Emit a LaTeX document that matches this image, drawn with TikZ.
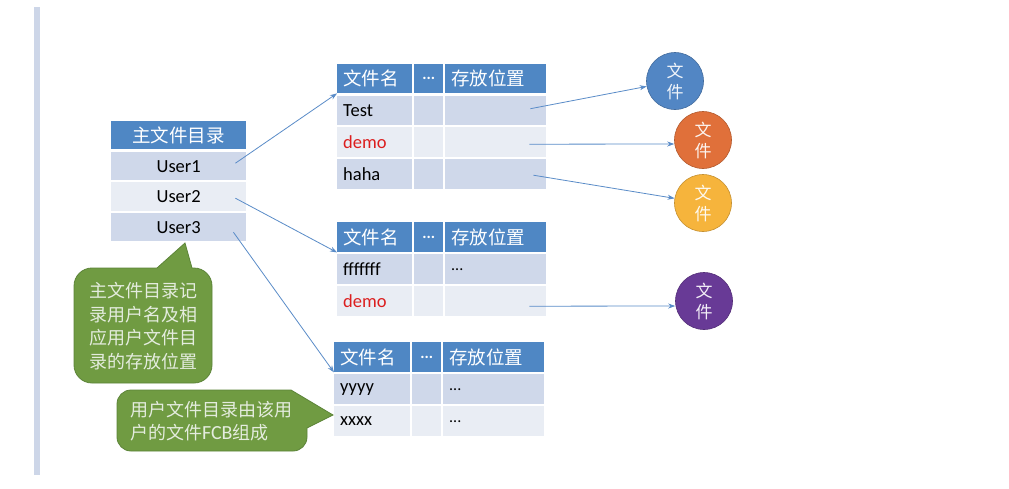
\documentclass[tikz,border=0pt]{standalone}
\usepackage{fontspec}
\setmainfont{Carlito}
\newfontfamily\cjk{Noto Sans CJK SC}
\usetikzlibrary{arrows.meta}
\definecolor{hdr}{RGB}{79,135,196}
\definecolor{rowd}{RGB}{207,216,234}
\definecolor{rowl}{RGB}{233,237,244}
\definecolor{demo}{RGB}{220,30,30}
\definecolor{callg}{RGB}{112,155,66}
\definecolor{callb}{RGB}{92,132,56}
\definecolor{calltxt}{RGB}{228,236,222}
\definecolor{arr}{RGB}{90,140,200}
\definecolor{barc}{RGB}{205,214,232}
\definecolor{cblue}{RGB}{82,134,196}
\definecolor{corange}{RGB}{224,112,58}
\definecolor{cyellow}{RGB}{246,180,60}
\definecolor{cpurple}{RGB}{104,58,150}
\newcommand\cellnode[7]{%
  \pgfmathsetmacro\cw{#4-(#2)}\pgfmathsetmacro\ch{#5-(#3)}\pgfmathsetmacro\tw{#4-(#2)-12}%
  \node[#6, anchor=north west, minimum width=\cw pt, minimum height=\ch pt, text width=\tw pt] (#1) at (#2,#3) {#7};}
\tikzset{
  basecell/.style={inner xsep=6pt, inner ysep=0pt, rectangle},
  hcell/.style={basecell, fill=hdr, text=white, font=\cjk\fontsize{18.5}{22}\selectfont, align=left},
  hdots/.style={basecell, fill=hdr, text=white, font=\fontsize{16}{18}\selectfont\bfseries, align=center},
  dcell/.style={basecell, fill=rowd, font=\fontsize{18.5}{21}\selectfont, align=left},
  lcell/.style={basecell, fill=rowl, font=\fontsize{18.5}{21}\selectfont, align=left},
  mhdr/.style={basecell, fill=hdr, text=white, font=\cjk\fontsize{18.5}{22}\selectfont, align=center},
  mdcell/.style={dcell, align=center},
  mlcell/.style={lcell, align=center},
  circ/.style={circle, inner sep=0pt, minimum size=57pt, draw=#1!80!black, line width=0.6pt, fill=#1, text=white!92!#1, font=\cjk\fontsize{17}{21}\selectfont, align=center},
  arrow/.style={draw=arr, line width=0.8pt, -{Stealth[length=7pt,width=5pt]}},
  callshape/.style={fill=callg, draw=callb, line width=0.8pt},
  calltext/.style={text=calltxt, font=\cjk\fontsize{18}{23.5}\selectfont, align=left, inner sep=0pt}
}
\newcommand\sdots{{\fontsize{16}{18}\selectfont ...}}
\begin{document}
\begin{tikzpicture}[x=1pt,y=-1pt]
\useasboundingbox (0,0) rectangle (1009,488);
\fill[white] (0,0) rectangle (1009,488);
\fill[barc] (34,7) rectangle (40,475);

% main directory
\cellnode{mh}{111}{121}{246}{149}{mhdr}{主文件目录}
\cellnode{u1}{111}{152}{246}{180}{mdcell}{User1}
\cellnode{u2}{111}{182}{246}{211}{mlcell}{User2}
\cellnode{u3}{111}{213}{246}{241}{mdcell}{User3}

% table 1
\cellnode{t1h1}{337}{64}{412}{93}{hcell}{文件名}
\cellnode{t1h2}{414}{64}{443}{93}{hdots}{...}
\cellnode{t1h3}{445}{64}{546}{93}{hcell}{存放位置}
\cellnode{t1r1c1}{337}{96}{412}{125}{dcell}{Test}
\cellnode{t1r1c2}{414}{96}{443}{125}{dcell}{}
\cellnode{t1r1c3}{445}{96}{546}{125}{dcell}{}
\cellnode{t1r2c1}{337}{127}{412}{157}{lcell}{\textcolor{demo}{demo}}
\cellnode{t1r2c2}{414}{127}{443}{157}{lcell}{}
\cellnode{t1r2c3}{445}{127}{546}{157}{lcell}{}
\cellnode{t1r3c1}{337}{159}{412}{189}{dcell}{haha}
\cellnode{t1r3c2}{414}{159}{443}{189}{dcell}{}
\cellnode{t1r3c3}{445}{159}{546}{189}{dcell}{}

% table 2
\cellnode{t2h1}{337}{222}{412}{252}{hcell}{文件名}
\cellnode{t2h2}{414}{222}{443}{252}{hdots}{...}
\cellnode{t2h3}{445}{222}{546}{252}{hcell}{存放位置}
\cellnode{t2r1c1}{337}{254}{412}{284}{dcell}{fffffff}
\cellnode{t2r1c2}{414}{254}{443}{284}{dcell}{}
\cellnode{t2r1c3}{445}{254}{546}{284}{dcell}{\sdots}
\cellnode{t2r2c1}{337}{286}{412}{316}{lcell}{\textcolor{demo}{demo}}
\cellnode{t2r2c2}{414}{286}{443}{316}{lcell}{}
\cellnode{t2r2c3}{445}{286}{546}{316}{lcell}{}

% table 3
\cellnode{t3h1}{334}{342}{410}{372}{hcell}{文件名}
\cellnode{t3h2}{412}{342}{441}{372}{hdots}{...}
\cellnode{t3h3}{443}{342}{544}{372}{hcell}{存放位置}
\cellnode{t3r1c1}{334}{374}{410}{404}{dcell}{yyyy}
\cellnode{t3r1c2}{412}{374}{441}{404}{dcell}{}
\cellnode{t3r1c3}{443}{374}{544}{404}{dcell}{\sdots}
\cellnode{t3r2c1}{334}{406}{410}{436}{lcell}{xxxx}
\cellnode{t3r2c2}{412}{406}{441}{436}{lcell}{}
\cellnode{t3r2c3}{443}{406}{544}{436}{lcell}{\sdots}

% file circles
\node[circ=cblue] (f1) at (675,81) {文\\件};
\node[circ=corange] (f2) at (703,140) {文\\件};
\node[circ=cyellow] (f3) at (703,203) {文\\件};
\node[circ=cpurple] (f4) at (704,301) {文\\件};

% arrows
\draw[arrow] ([xshift=-11pt,yshift=3pt]u1.east) -- (t1h1.south west);
\draw[arrow] ([xshift=-11pt,yshift=-1.5pt]u2.east) -- (t2h1.south west);
\draw[arrow] ([xshift=-13pt,yshift=-5pt]u3.east) -- (t3h1.south west);
\draw[arrow] ([xshift=-16pt,yshift=2pt]t1r1c3.east) -- (f1);
\draw[arrow] ([xshift=-17pt,yshift=-2pt]t1r2c3.east) -- ([yshift=-4pt]f2.west);
\draw[arrow] ([xshift=-13pt,yshift=-1pt]t1r3c3.east) -- (f3);
\draw[arrow] ([xshift=-17pt,yshift=-5pt]t2r2c3.east) -- ([yshift=-5pt]f4.west);

% callout 1
\path[callshape] (90,268) -- (157,268) -- (185,243) -- (192,268) -- (194,268)
  arc[start angle=90,end angle=0,radius=18pt] -- (212,365)
  arc[start angle=0,end angle=-90,radius=18pt] -- (92,383)
  arc[start angle=-90,end angle=-180,radius=18pt] -- (74,286)
  arc[start angle=180,end angle=90,radius=18pt] -- cycle;
\node[calltext] (n1) at (143,326) {主文件目录记\\录用户名及相\\应用户文件目\\录的存放位置};

% callout 2
\path[callshape] (131,390) -- (291,390) -- (333,415) -- (307,428) -- (307,437)
  arc[start angle=0,end angle=-90,radius=14pt] -- (131,451)
  arc[start angle=-90,end angle=-180,radius=14pt] -- (117,404)
  arc[start angle=180,end angle=90,radius=14pt] -- cycle;
\node[calltext] (n2) at (211,421) {用户文件目录由该用\\户的文件{\fontspec{Carlito}\fontsize{20}{23.5}\selectfont FCB}组成};
\end{tikzpicture}
\end{document}
